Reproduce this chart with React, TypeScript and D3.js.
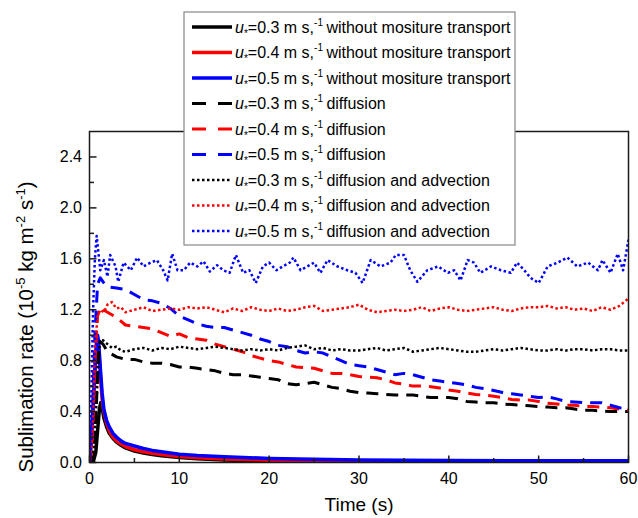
import React from "react";
import * as d3 from "d3";

// ---------- data ----------
const tSolidBlack = [0, 0.4, 0.7, 0.9, 1.1, 1.25, 1.4, 1.6, 1.9, 2.2, 2.6, 3, 3.5, 4, 5, 6, 7, 8, 10, 12, 15, 20, 25, 30, 40, 50, 60];
const vSolidBlack = [0, 0.0, 0.08, 0.25, 0.42, 0.47, 0.43, 0.35, 0.28, 0.23, 0.19, 0.16, 0.135, 0.115, 0.09, 0.075, 0.062, 0.052, 0.04, 0.03, 0.02, 0.012, 0.008, 0.006, 0.004, 0.003, 0.003];

const tSolidRB = [0, 0.2, 0.4, 0.6, 0.8, 0.9, 1.0, 1.2, 1.4, 1.6, 1.9, 2.2, 2.6, 3, 3.5, 4, 5, 6, 7, 8, 10, 12, 15, 20, 25, 30, 40, 50, 60];
const vSolidRed = [0, 0.15, 0.4, 0.7, 0.93, 0.97, 0.93, 0.7, 0.5, 0.4, 0.31, 0.25, 0.2, 0.17, 0.145, 0.125, 0.1, 0.085, 0.072, 0.062, 0.048, 0.038, 0.028, 0.018, 0.012, 0.009, 0.006, 0.005, 0.005];
const vSolidBlue = [0, 0.2, 0.45, 0.75, 0.97, 1.0, 0.96, 0.75, 0.55, 0.42, 0.33, 0.28, 0.23, 0.2, 0.17, 0.15, 0.13, 0.11, 0.095, 0.085, 0.065, 0.055, 0.045, 0.032, 0.025, 0.02, 0.016, 0.014, 0.013];

const tDashBlack = [0, 0.5, 0.8, 1.0, 1.2, 1.5, 2, 3, 4, 5, 6, 7, 8, 9, 10, 11, 12, 13, 14, 15, 16, 17, 18, 19, 20, 21, 22, 23, 24, 25, 26, 27, 28, 29, 30, 31, 32, 33, 34, 35, 36, 37, 38, 39, 40, 41, 42, 43, 44, 45, 46, 47, 48, 49, 50, 51, 52, 53, 54, 55, 56, 57, 58, 59, 60];
const vDashBlack = [0, 0.05, 0.5, 0.85, 0.95, 0.93, 0.87, 0.83, 0.81, 0.81, 0.79, 0.78, 0.78, 0.77, 0.75, 0.75, 0.74, 0.73, 0.72, 0.70, 0.69, 0.69, 0.68, 0.67, 0.66, 0.65, 0.62, 0.61, 0.62, 0.63, 0.61, 0.59, 0.58, 0.56, 0.55, 0.545, 0.54, 0.535, 0.53, 0.53, 0.53, 0.52, 0.51, 0.51, 0.51, 0.50, 0.48, 0.475, 0.47, 0.47, 0.46, 0.455, 0.45, 0.445, 0.44, 0.435, 0.43, 0.43, 0.42, 0.41, 0.41, 0.405, 0.40, 0.40, 0.40];

const tDashRB = [0, 0.3, 0.6, 0.9, 1.2, 1.5, 2, 3, 4, 5, 6, 7, 8, 9, 10, 11, 12, 13, 14, 15, 16, 17, 18, 19, 20, 21, 22, 23, 24, 25, 26, 27, 28, 29, 30, 31, 32, 33, 34, 35, 36, 37, 38, 39, 40, 41, 42, 43, 44, 45, 46, 47, 48, 49, 50, 51, 52, 53, 54, 55, 56, 57, 58, 59, 60];
const vDashRed = [0, 0.1, 0.8, 1.15, 1.22, 1.2, 1.18, 1.14, 1.08, 1.07, 1.06, 1.05, 1.02, 0.99, 1.01, 0.98, 0.97, 0.96, 0.93, 0.91, 0.89, 0.87, 0.84, 0.82, 0.80, 0.79, 0.77, 0.75, 0.745, 0.74, 0.72, 0.70, 0.70, 0.69, 0.675, 0.67, 0.665, 0.65, 0.625, 0.615, 0.60, 0.60, 0.595, 0.585, 0.57, 0.56, 0.545, 0.535, 0.53, 0.52, 0.51, 0.495, 0.49, 0.49, 0.48, 0.465, 0.46, 0.45, 0.45, 0.44, 0.44, 0.435, 0.43, 0.42, 0.41];
const vDashBlue = [0, 0.3, 1.0, 1.4, 1.45, 1.42, 1.38, 1.37, 1.36, 1.32, 1.28, 1.27, 1.25, 1.21, 1.15, 1.12, 1.09, 1.07, 1.06, 1.06, 1.04, 1.02, 1.0, 0.97, 0.95, 0.92, 0.91, 0.88, 0.86, 0.87, 0.86, 0.83, 0.80, 0.77, 0.76, 0.75, 0.73, 0.71, 0.69, 0.70, 0.69, 0.67, 0.65, 0.64, 0.63, 0.62, 0.61, 0.59, 0.58, 0.565, 0.55, 0.54, 0.53, 0.52, 0.51, 0.515, 0.50, 0.48, 0.475, 0.47, 0.47, 0.47, 0.45, 0.43, 0.42];

const tDotBlack = [0, 0.5, 0.8, 1.0, 1.2, 1.5, 2, 2.5, 3, 3.5, 4, 5, 6, 7, 8, 9, 10, 11, 12, 13, 14, 15, 16, 17, 18, 19, 20, 21, 22, 23, 24, 25, 26, 27, 28, 29, 30, 31, 32, 33, 34, 35, 36, 37, 38, 39, 40, 41, 42, 43, 44, 45, 46, 47, 48, 49, 50, 51, 52, 53, 54, 55, 56, 57, 58, 59, 60];
const vDotBlack = [0, 0.1, 0.5, 0.85, 0.96, 0.96, 0.93, 0.9, 0.91, 0.88, 0.87, 0.89, 0.90, 0.88, 0.90, 0.89, 0.91, 0.90, 0.89, 0.90, 0.91, 0.90, 0.89, 0.88, 0.89, 0.88, 0.89, 0.88, 0.90, 0.91, 0.92, 0.89, 0.90, 0.88, 0.89, 0.88, 0.88, 0.89, 0.90, 0.88, 0.89, 0.90, 0.87, 0.88, 0.89, 0.90, 0.89, 0.88, 0.87, 0.87, 0.88, 0.89, 0.88, 0.89, 0.90, 0.89, 0.88, 0.88, 0.89, 0.88, 0.89, 0.89, 0.88, 0.89, 0.89, 0.88, 0.88];

const tDotRed = [0, 0.3, 0.6, 0.9, 1.2, 1.6, 2, 2.5, 3, 3.5, 4, 5, 6, 7, 8, 9, 10, 11, 12, 13, 14, 15, 16, 17, 18, 19, 20, 21, 22, 23, 24, 25, 26, 27, 28, 29, 30, 31, 32, 33, 34, 35, 36, 37, 38, 39, 40, 41, 42, 43, 44, 45, 46, 47, 48, 49, 50, 51, 52, 53, 54, 55, 56, 57, 58, 59, 60];
const vDotRed = [0, 0.2, 0.9, 1.15, 1.2, 1.18, 1.24, 1.26, 1.21, 1.22, 1.18, 1.2, 1.22, 1.19, 1.2, 1.21, 1.2, 1.22, 1.21, 1.22, 1.2, 1.18, 1.21, 1.19, 1.22, 1.2, 1.19, 1.21, 1.19, 1.2, 1.22, 1.23, 1.19, 1.2, 1.21, 1.22, 1.24, 1.2, 1.18, 1.19, 1.2, 1.19, 1.2, 1.22, 1.19, 1.21, 1.22, 1.2, 1.19, 1.2, 1.21, 1.22, 1.2, 1.19, 1.21, 1.22, 1.22, 1.23, 1.21, 1.22, 1.2, 1.21, 1.19, 1.22, 1.2, 1.23, 1.29];

const tDotBlue = [0, 0.2, 0.4, 0.6, 0.8, 1.2, 1.6, 2, 2.3, 2.9, 3.2, 3.8, 4.6, 5.3, 6, 6.8, 7.5, 8.2, 8.7, 9.2, 9.8, 10.5, 11.2, 12, 12.7, 13.4, 14.2, 14.9, 15.6, 16.3, 17.1, 17.8, 18.5, 19.3, 20, 20.8, 21.5, 22.3, 22.7, 23.5, 25, 25.7, 26.5, 27.6, 28.7, 29.6, 30.4, 31.3, 32.4, 33.5, 34.1, 35, 35.7, 36.5, 37.6, 38.8, 39.9, 40.6, 41.3, 42.1, 42.8, 43.5, 44.7, 45.8, 46.9, 47.6, 48.4, 49.1, 50, 51, 52.1, 53.2, 54.3, 55.5, 56.6, 57.1, 58, 58.8, 59.4, 60];
const vDotBlue = [0, 0.5, 1.2, 1.6, 1.78, 1.51, 1.59, 1.46, 1.63, 1.54, 1.42, 1.57, 1.51, 1.61, 1.54, 1.57, 1.59, 1.51, 1.43, 1.64, 1.51, 1.51, 1.57, 1.54, 1.58, 1.50, 1.55, 1.51, 1.49, 1.63, 1.49, 1.51, 1.41, 1.54, 1.57, 1.51, 1.54, 1.57, 1.61, 1.51, 1.57, 1.49, 1.59, 1.54, 1.51, 1.49, 1.41, 1.59, 1.54, 1.57, 1.63, 1.63, 1.51, 1.42, 1.51, 1.54, 1.49, 1.51, 1.43, 1.59, 1.57, 1.49, 1.54, 1.51, 1.49, 1.57, 1.51, 1.45, 1.41, 1.54, 1.57, 1.61, 1.54, 1.57, 1.51, 1.59, 1.49, 1.64, 1.51, 1.75];

const xTicks = [0, 10, 20, 30, 40, 50, 60];
const xMinor = [5, 15, 25, 35, 45, 55];
const yTicks = [0, 0.4, 0.8, 1.2, 1.6, 2.0, 2.4];
const yMinor = [0.2, 0.6, 1.0, 1.4, 1.8, 2.2];
const speeds = ["0.3", "0.4", "0.5"];
const descriptions = ["without mositure transport", "diffusion", "diffusion and advection"];
const colors = ["#000000", "#ff0000", "#0000ff"];

const series = [
  { t: tSolidBlack, v: vSolidBlack, c: 0, s: 0 },
  { t: tSolidRB, v: vSolidRed, c: 1, s: 0 },
  { t: tSolidRB, v: vSolidBlue, c: 2, s: 0 },
  { t: tDashBlack, v: vDashBlack, c: 0, s: 1 },
  { t: tDashRB, v: vDashRed, c: 1, s: 1 },
  { t: tDashRB, v: vDashBlue, c: 2, s: 1 },
  { t: tDotBlack, v: vDotBlack, c: 0, s: 2 },
  { t: tDotRed, v: vDotRed, c: 1, s: 2 },
  { t: tDotBlue, v: vDotBlue, c: 2, s: 2 },
];

const styles = [
  { w: 3.5, dash: undefined as string | undefined },
  { w: 3, dash: "12,8" },
  { w: 2.5, dash: "2.5,2.5" },
];

const FONT = "Arial, 'Liberation Sans', sans-serif";

export default function App() {
  const W = 638, H = 518;
  const x = d3.scaleLinear().domain([0, 60]).range([89.5, 628.5]);
  const y = d3.scaleLinear().domain([0, 2.6]).range([462.5, 131.5]);
  const line = d3.line<[number, number]>().x(d => x(d[0])).y(d => y(d[1]));
  const [x0, x1] = x.range();
  const [y0, y1] = y.range();

  const legX = 184, legY = 12, legW = 331, legH = 233;
  const rowH = 25.5, row0 = 27;

  return (
    <svg width={W} height={H} style={{ position: "absolute", left: 0, top: 0, background: "#fff" }} fontFamily={FONT}>
      <defs>
        <clipPath id="plot">
          <rect x={x0} y={y1} width={x1 - x0} height={y0 - y1} />
        </clipPath>
      </defs>
      <rect width={W} height={H} fill="#fff" />
      <g clipPath="url(#plot)">
        {series.map((s, i) => (
          <path
            key={i}
            d={line(s.t.map((t, k) => [t, s.v[k]] as [number, number])) || ""}
            fill="none"
            stroke={colors[s.c]}
            strokeWidth={styles[s.s].w}
            strokeDasharray={styles[s.s].dash}
            strokeLinejoin="round"
          />
        ))}
      </g>
      {/* frame */}
      <rect x={x0} y={y1} width={x1 - x0} height={y0 - y1} fill="none" stroke="#1a1a1a" strokeWidth={1.5} />
      {/* x ticks */}
      {xTicks.map(t => (
        <g key={"xt" + t}>
          <line x1={x(t)} x2={x(t)} y1={y0} y2={y0 - 7} stroke="#1a1a1a" strokeWidth={1.5} />
          <text x={x(t)} y={484} fontSize={16} textAnchor="middle">{t}</text>
        </g>
      ))}
      {xMinor.map(t => (
        <line key={"xm" + t} x1={x(t)} x2={x(t)} y1={y0} y2={y0 - 4.5} stroke="#1a1a1a" strokeWidth={1.5} />
      ))}
      {yTicks.map(t => (
        <g key={"yt" + t}>
          <line x1={x0} x2={x0 + 7} y1={y(t)} y2={y(t)} stroke="#1a1a1a" strokeWidth={1.5} />
          <text x={82} y={y(t) + 5.5} fontSize={16} textAnchor="end">{t.toFixed(1)}</text>
        </g>
      ))}
      {yMinor.map(t => (
        <line key={"ym" + t} x1={x0} x2={x0 + 4.5} y1={y(t)} y2={y(t)} stroke="#1a1a1a" strokeWidth={1.5} />
      ))}
      {/* axis titles */}
      <text x={(x0 + x1) / 2} y={511} fontSize={19} textAnchor="middle">Time (s)</text>
      <text transform={`translate(33,327) rotate(-90)`} fontSize={20.5} textAnchor="middle">
        Sublimation rate (10<tspan fontSize={13} dy={-8}>-5</tspan>
        <tspan dy={8}> kg m</tspan>
        <tspan fontSize={13} dy={-8}>-2</tspan>
        <tspan dy={8}> s</tspan>
        <tspan fontSize={13} dy={-8}>-1</tspan>
        <tspan dy={8}>)</tspan>
      </text>
      {/* legend */}
      <rect x={legX} y={legY} width={legW} height={legH} fill="#fff" stroke="#888" strokeWidth={1.2} />
      {descriptions.map((desc, si) =>
        speeds.map((sp, ci) => {
          const idx = si * 3 + ci;
          const cy = row0 + idx * rowH;
          return (
            <g key={"lg" + idx}>
              <line x1={192} x2={232} y1={cy} y2={cy} stroke={colors[ci]} strokeWidth={styles[si].w}
                strokeDasharray={si === 1 ? "14,12" : styles[si].dash} />
              <text x={235} y={cy + 5.5} fontSize={16}>
                <tspan fontStyle="italic">u</tspan>
                <tspan fontSize={10} dy={4}>*</tspan>
                <tspan dy={-4}>{"=" + sp + " m s,"}</tspan>
                <tspan dy={-7} fontSize={10}>-1</tspan>
                <tspan dx={-1} dy={7}>{" " + desc}</tspan>
              </text>
            </g>
          );
        })
      )}
    </svg>
  );
}
